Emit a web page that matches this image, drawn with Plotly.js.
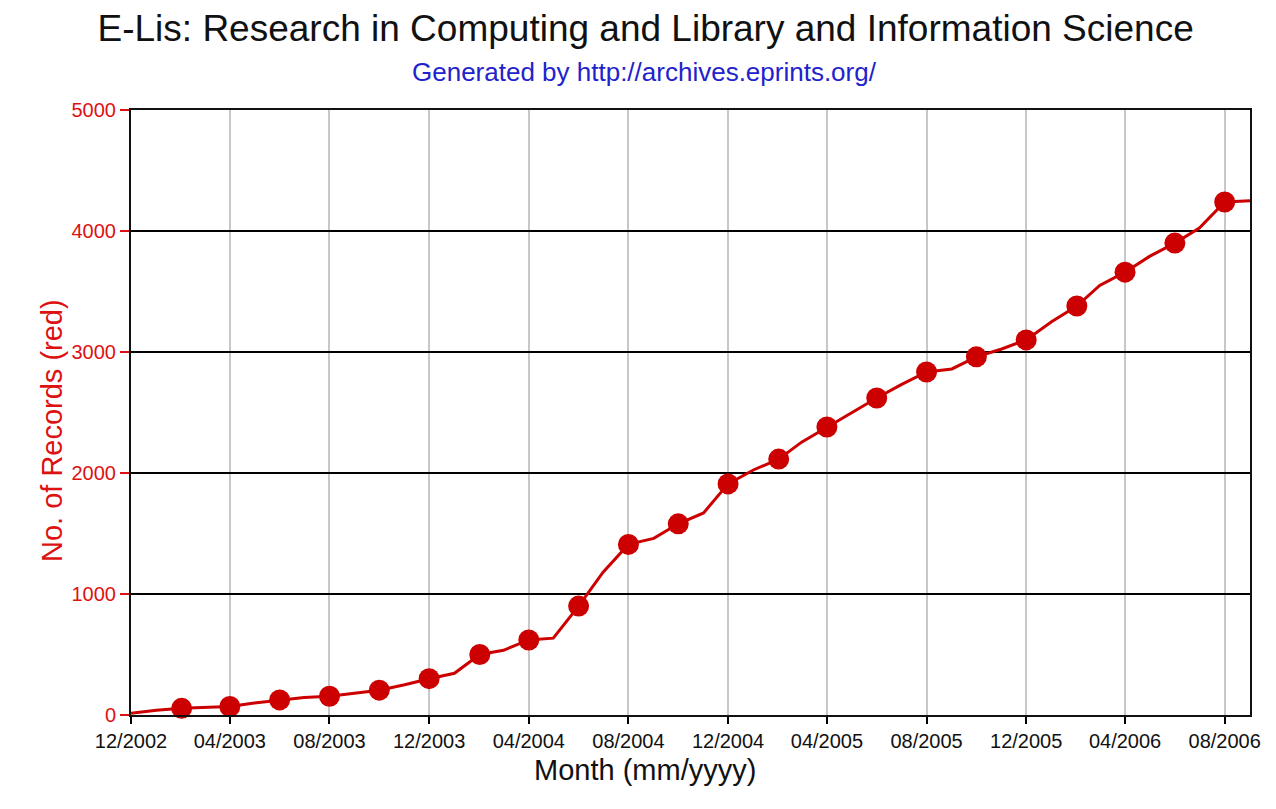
<!DOCTYPE html>
<html>
<head>
<meta charset="utf-8">
<script src="https://cdn.plot.ly/plotly-3.0.1.min.js"></script>
<style>html,body{margin:0;padding:0;background:#fff;}#chart{width:1276px;height:809px;}</style>
</head>
<body>
<div id="chart"></div>
<script>
// Monthly points, 12/2002 .. 09/2006
const months = [
  "2002-12-01","2003-01-01","2003-02-01","2003-03-01","2003-04-01","2003-05-01","2003-06-01",
  "2003-07-01","2003-08-01","2003-09-01","2003-10-01","2003-11-01","2003-12-01",
  "2004-01-01","2004-02-01","2004-03-01","2004-04-01","2004-05-01","2004-06-01",
  "2004-07-01","2004-08-01","2004-09-01","2004-10-01","2004-11-01","2004-12-01",
  "2005-01-01","2005-02-01","2005-03-01","2005-04-01","2005-05-01","2005-06-01",
  "2005-07-01","2005-08-01","2005-09-01","2005-10-01","2005-11-01","2005-12-01",
  "2006-01-01","2006-02-01","2006-03-01","2006-04-01","2006-05-01","2006-06-01",
  "2006-07-01","2006-08-01","2006-09-01"
];
const records = [
  15, 40, 55, 65, 70, 100, 125,
  145, 155, 180, 205, 250, 300,
  345, 500, 535, 620, 635, 900,
  1180, 1410, 1460, 1580, 1670, 1910,
  2025, 2115, 2255, 2380, 2495, 2620,
  2730, 2835, 2860, 2960, 3025, 3100,
  3250, 3380, 3550, 3660, 3790, 3900,
  4025, 4240, 4250
];
const titleText = "E-Lis: Research in Computing and Library and Information Science";
const subtitleText = "Generated by http://archives.eprints.org/";
const xTitle = "Month (mm/yyyy)";
const yTitle = "No. of Records (red)";

const markerSizes = records.map((v, i) => (i > 0 && i % 2 === 0) ? 21 : 0);

const trace = {
  x: months, y: records, type: "scatter", mode: "lines+markers",
  line: {color: "#cc0000", width: 3},
  marker: {color: "#cc0000", size: markerSizes, opacity: 1, line: {width: 0}},
  cliponaxis: false, hoverinfo: "skip"
};

const layout = {
  width: 1276, height: 809,
  paper_bgcolor: "#ffffff", plot_bgcolor: "#ffffff",
  margin: {l: 131, r: 26, t: 110, b: 94},
  font: {family: "Liberation Sans, Arial, sans-serif", color: "#000"},
  showlegend: false,
  title: {text: titleText, font: {size: 37, color: "#111"}, x: 0.506, xanchor: "center", y: 0.965, yanchor: "middle"},
  annotations: [
    {text: subtitleText, xref: "paper", yref: "paper", x: 0.4593, y: 1.0, yshift: 38,
     showarrow: false, font: {size: 26, color: "#2222cc"}, xanchor: "center", yanchor: "middle"},
    {text: xTitle, xref: "paper", yref: "paper", x: 0.4593, y: -0.0909,
     showarrow: false, font: {size: 29, color: "#111"}, xanchor: "center", yanchor: "middle"},
    {text: yTitle, xref: "paper", yref: "paper", x: -0.0706, y: 0.471, textangle: -90,
     showarrow: false, font: {size: 29, color: "#dd1111"}, xanchor: "center", yanchor: "middle"}
  ],
  xaxis: {
    type: "date", range: ["2002-12-01", "2006-09-01"],
    tick0: "2002-12-01", dtick: "M4", tickformat: "%m/%Y",
    ticks: "outside", ticklen: 7, tickwidth: 2, tickcolor: "#000",
    tickfont: {size: 20, color: "#111"},
    showgrid: true, gridcolor: "#c8c8c8", gridwidth: 2,
    showline: true, linecolor: "#111", linewidth: 2, mirror: true,
    zeroline: false
  },
  yaxis: {
    range: [0, 5000], dtick: 1000,
    ticks: "outside", ticklen: 9, tickwidth: 2, tickcolor: "#dd1111",
    tickfont: {size: 20, color: "#dd1111"},
    showgrid: true, gridcolor: "#000", gridwidth: 2,
    showline: true, linecolor: "#111", linewidth: 2, mirror: true,
    zeroline: false
  }
};

Plotly.newPlot("chart", [trace], layout, {displayModeBar: false, staticPlot: true});
</script>
</body>
</html>
